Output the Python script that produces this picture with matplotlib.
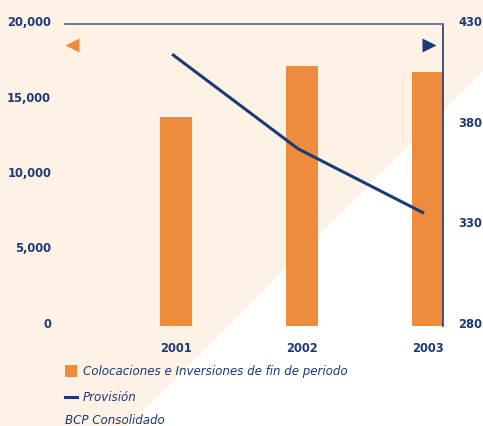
import matplotlib
matplotlib.use("Agg")
import matplotlib.pyplot as plt
from matplotlib.patches import Polygon, Rectangle
from matplotlib.lines import Line2D
from matplotlib.ticker import FuncFormatter
import matplotlib.transforms as mtransforms

years = ["2001", "2002", "2003"]
colocaciones = [13850, 17200, 16800]
provision = [415, 368, 336]

left_ticks = [0, 5000, 10000, 15000, 20000]
right_ticks = [280, 330, 380, 430]

orange = "#EE8C3D"
navy = "#1C3A76"
peach = "#FEF1E6"

W, H = 483, 427
fig = plt.figure(figsize=(W / 100, H / 100), dpi=100)
fig.patch.set_facecolor(peach)


def fx(px):
    return px / W


def fy(py):
    return 1 - py / H


# white diagonal band in the lower right
fig.patches.append(Polygon([(fx(483), fy(72)), (fx(483), fy(427)), (fx(128), fy(427))],
                           closed=True, transform=fig.transFigure,
                           facecolor="white", edgecolor="none", zorder=-5))

ax = fig.add_axes([fx(65), fy(327), fx(443) - fx(65), fy(25) - fy(327)])
ax.set_facecolor("none")
x = list(range(len(years)))
ax.bar(x, colocaciones, width=0.254, color=orange, zorder=2)
ax.set_xlim(-0.88, 2.12)
ax.set_ylim(0, 20000)
ax.set_yticks(left_ticks)
ax.yaxis.set_major_formatter(FuncFormatter(lambda v, p: f"{int(v):,}"))
ax.set_xticks(x)
ax.set_xticklabels(years)

for s in ["left", "bottom"]:
    ax.spines[s].set_visible(False)
ax.spines["top"].set_color("#6B79A2")
ax.spines["top"].set_linewidth(1.4)
ax.spines["right"].set_color(navy)
ax.spines["right"].set_linewidth(1.2)

ax.tick_params(axis="y", length=0, pad=10, labelsize=8.3, labelcolor=navy)
ax.tick_params(axis="x", length=0, pad=11, labelsize=8.3, labelcolor=navy)

ax2 = ax.twinx()
ax2.plot([v - 0.03 for v in x], provision, color=navy, lw=2.2, zorder=3,
         solid_capstyle="butt")
ax2.set_ylim(280, 430)
ax2.set_yticks(right_ticks)
for s in ax2.spines.values():
    s.set_visible(False)
ax2.tick_params(axis="y", length=0, pad=11, labelsize=8.3, labelcolor=navy)

shift = mtransforms.ScaledTranslation(0, 4 / 100, fig.dpi_scale_trans)
for lab in ax.get_yticklabels() + ax2.get_yticklabels() + ax.get_xticklabels():
    lab.set_fontweight("bold")
for lab in ax.get_yticklabels() + ax2.get_yticklabels():
    lab.set_transform(lab.get_transform() + shift)

# direction markers
fig.add_artist(Line2D([fx(72)], [fy(46)], marker="<", ms=10.5, color=orange,
                      mec="none", transform=fig.transFigure))
fig.add_artist(Line2D([fx(429)], [fy(46)], marker=">", ms=10.5, color=navy,
                      mec="none", transform=fig.transFigure))

# legend
fig.patches.append(Rectangle((fx(65), fy(378)), fx(12), fy(366) - fy(378),
                             transform=fig.transFigure, facecolor=orange,
                             edgecolor="none"))
fig.add_artist(Line2D([fx(65), fx(77)], [fy(398), fy(398)], color=navy, lw=2.2,
                      transform=fig.transFigure))
txt = dict(color=navy, fontsize=8.6, style="italic", va="center", ha="left")
fig.text(fx(83), fy(372), "Colocaciones e Inversiones de fin de periodo", **txt)
fig.text(fx(83), fy(398), "Provisión", **txt)
fig.text(fx(65), fy(421), "BCP Consolidado", **txt)

fig.savefig("out.png", dpi=100, facecolor=fig.get_facecolor())
